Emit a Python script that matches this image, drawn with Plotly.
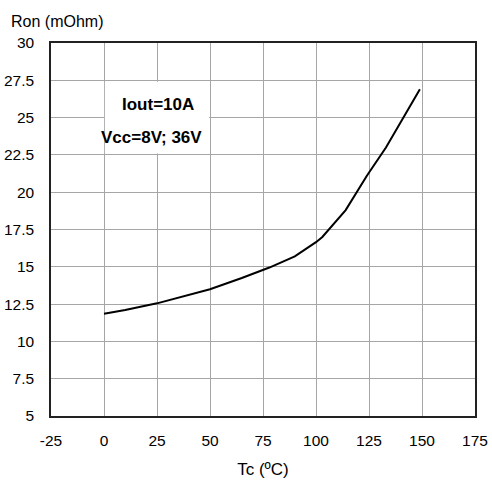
import plotly.graph_objects as go

# Data
tc = [0, 10, 25, 37, 50, 65, 78, 90, 100, 103, 114, 124, 133, 149]
ron = [11.85, 12.1, 12.55, 13.0, 13.5, 14.25, 14.95, 15.7, 16.65, 17.0, 18.8, 21.1, 23.0, 26.9]

x_ticks = [-25, 0, 25, 50, 75, 100, 125, 150, 175]
y_ticks = [5, 7.5, 10, 12.5, 15, 17.5, 20, 22.5, 25, 27.5, 30]
y_ticktext = ["5", "7.5", "10", "12.5", "15", "17.5", "20", "22.5", "25", "27.5", "30"]

FONT = "Liberation Sans, Arial, sans-serif"

fig = go.Figure()
fig.add_trace(go.Scatter(x=tc, y=ron, mode="lines",
                         line=dict(color="black", width=2), hoverinfo="skip",
                         showlegend=False))

fig.update_layout(
    width=492, height=483,
    margin=dict(l=51, r=17, t=43, b=67, autoexpand=False),
    paper_bgcolor="white", plot_bgcolor="white",
    font=dict(family=FONT, size=15.5, color="black"),
    xaxis=dict(range=[-25, 175], tickvals=x_ticks, ticktext=[str(v) for v in x_ticks],
               showgrid=True, gridcolor="#a6a6a6", gridwidth=1,
               showline=True, linecolor="#222", linewidth=1.5, mirror=True,
               ticks="outside", ticklen=10, tickcolor="rgba(0,0,0,0)",
               zeroline=False, automargin=False,
               title=dict(text="Tc (ºC)", font=dict(size=17), standoff=15)),
    yaxis=dict(range=[5, 30], tickvals=y_ticks, ticktext=y_ticktext,
               showgrid=True, gridcolor="#a6a6a6", gridwidth=1,
               showline=True, linecolor="#222", linewidth=1.5, mirror=True,
               ticks="outside", ticklen=12, tickcolor="rgba(0,0,0,0)",
               zeroline=False, automargin=False),
    shapes=[dict(type="rect", xref="x", yref="y", x0=0.4, x1=49.6, y0=22.6, y1=27.4,
                 fillcolor="white", line=dict(width=0), layer="between")],
    annotations=[
        dict(text="Ron (mOhm)", xref="paper", yref="paper", x=-0.1, y=1.058,
             xanchor="left", yanchor="middle", showarrow=False, font=dict(size=16)),
        dict(text="<b>Iout=10A</b>", xref="x", yref="y", x=25.5, y=25.9,
             showarrow=False, font=dict(size=17)),
        dict(text="<b>Vcc=8V; 36V</b>", xref="x", yref="y", x=22.6, y=23.65,
             showarrow=False, font=dict(size=17)),
    ],
)

fig.write_html("out.html", config={"displayModeBar": False},
               post_script="document.body.style.margin='0';")
